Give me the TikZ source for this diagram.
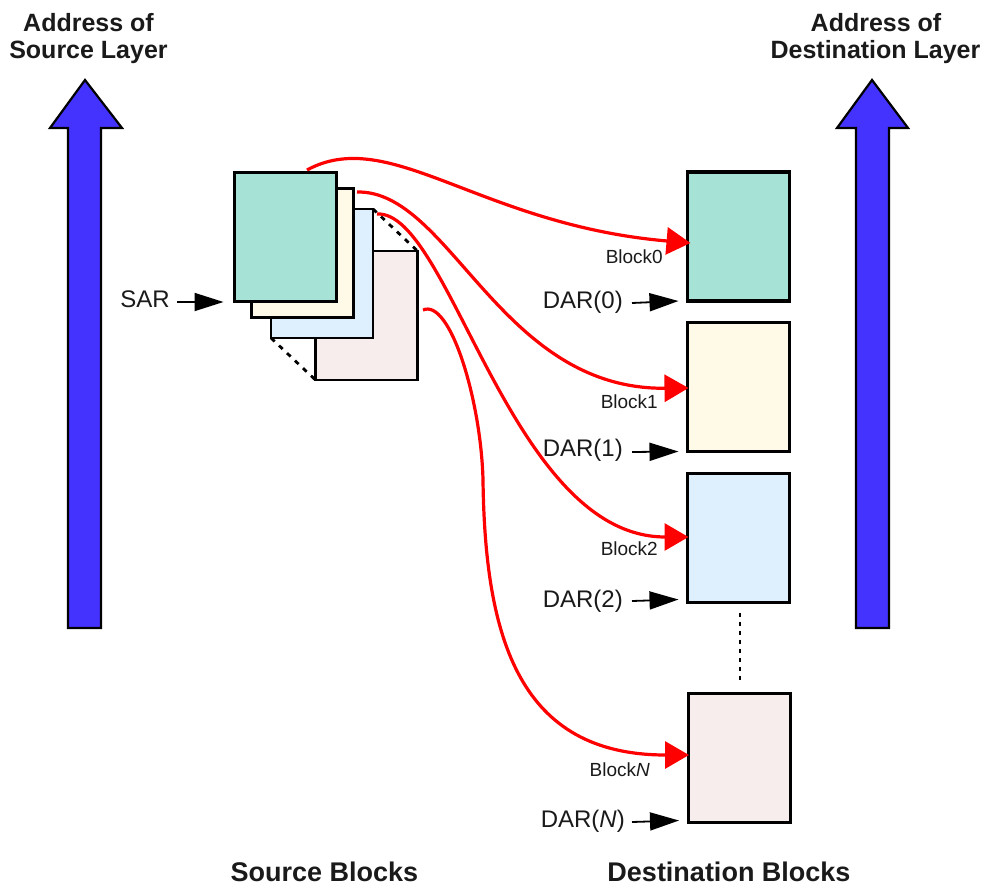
\documentclass[tikz,border=0pt]{standalone}
\usepackage{fontspec}
\setmainfont{Liberation Sans}
\usetikzlibrary{arrows.meta,calc}
\definecolor{cteal}{RGB}{166,226,214}
\definecolor{ccream}{RGB}{255,250,232}
\definecolor{cblue}{RGB}{222,240,254}
\definecolor{cpink}{RGB}{247,237,237}
\definecolor{cbig}{RGB}{68,51,255}
\definecolor{ctext}{RGB}{26,26,26}
\begin{document}
\begin{tikzpicture}[x=1pt,y=-1pt,
  ttl/.style={font=\bfseries\fontsize{25}{30}\selectfont, text=ctext, inner sep=0pt, anchor=base},
  btm/.style={font=\bfseries\fontsize{27}{32}\selectfont, text=ctext, inner sep=0pt, anchor=base},
  lbl/.style={font=\fontsize{24}{28}\selectfont, text=ctext, inner sep=0pt, anchor=base east},
  blbl/.style={font=\fontsize{19}{22}\selectfont, text=ctext, inner sep=0pt, anchor=base east},
  srcbox/.style={draw=black, line width=3.2pt, minimum width=102pt, minimum height=129pt, inner sep=0pt, outer sep=0pt},
  dstbox/.style={draw=black, line width=3pt, minimum width=102pt, minimum height=129pt, inner sep=0pt, outer sep=0pt},
  bigarrow/.style={draw=black, line width=2.2pt, fill=cbig, line join=miter},
  redarr/.style={draw=red, line width=3.2pt, -{Triangle[length=24pt,width=27pt]}},
  blkarr/.style={draw=black, line width=1.8pt, -{Triangle[length=29pt,width=18pt]}},
  morelines/.style={draw=black, line width=2.8pt, dash pattern=on 5pt off 6pt}
]
\useasboundingbox (0,0) rectangle (987,888);

% big blue arrows
\path[bigarrow] (68,628) -- (68,128) -- (50,128) -- (85,80) -- (122,128) -- (101,128) -- (101,628) -- cycle;
\path[bigarrow] (856,628) -- (856,128) -- (837,128) -- (872,80) -- (908,128) -- (889,128) -- (889,628) -- cycle;

% titles
\node[ttl] (t1) at (88.5,31.5) {Address of};
\node[ttl] (t2) at (88.5,58.5) {Source Layer};
\node[ttl] (t3) at (876,31.5) {Address of};
\node[ttl] (t4) at (875.5,58.5) {Destination Layer};
\node[btm] (b1) at (324.5,881) {Source Blocks};
\node[btm] (b2) at (729,881) {Destination Blocks};

% source blocks (back to front)
\node[srcbox, fill=cpink, line width=2.8pt] (sD) at (366.5,315.5) {};
\node[srcbox, fill=cblue, line width=2.8pt] (sC) at (322,273.5) {};
\node[srcbox, fill=ccream] (sB) at (302.5,253) {};
\node[srcbox, fill=cteal, line width=3.6pt] (sA) at (285.5,237) {};
\draw[morelines] (sC.north east) -- (sD.north east);
\draw[morelines] (sC.south west) -- (sD.south west);

% destination blocks
\node[dstbox, fill=cteal, line width=3.5pt] (d0) at (738.5,236.5) {};
\node[dstbox, fill=ccream] (d1) at (738.5,387) {};
\node[dstbox, fill=cblue] (d2) at (738.5,538) {};
\node[dstbox, fill=cpink] (dN) at (739,758) {};
\draw[line width=2.8pt, dash pattern=on 4pt off 5pt] ($(d2.south)+(1.5,10)$) -- ($(dN.north)+(1,-10)$);

% SAR
\node[lbl] (sar) at (170,307) {SAR};
\draw[blkarr] ($(sar.base east)+(7,-5)$) -- ($(sA.west)+(-11,65)$);

% DAR labels and arrows
\node[lbl] (dar0) at (623,308) {DAR(0)};
\node[lbl] (dar1) at (623,456) {DAR(1)};
\node[lbl] (dar2) at (623,607) {DAR(2)};
\node[lbl] (darN) at (625,827) {DAR(\textit{N})};
\draw[blkarr] ($(dar0.base east)+(9,-5)$) -- ($(d0.south west)+(-9,0)$);
\draw[blkarr] ($(dar1.base east)+(9,-4)$) -- ($(d1.south west)+(-9,0)$);
\draw[blkarr] ($(dar2.base east)+(9,-6)$) -- ($(d2.south west)+(-9,-3)$);
\draw[blkarr] ($(darN.base east)+(7,-5)$) -- ($(dN.south west)+(-9,-2)$);

% block labels
\node[blbl] (bl0) at (663,263) {Block0};
\node[blbl] (bl1) at (658,408) {Block1};
\node[blbl] (bl2) at (658,555) {Block2};
\node[blbl] (blN) at (650,776) {Block\textit{N}};

% red connectors
\coordinate (s0) at (307,170);
\coordinate (s1) at (357,192);
\coordinate (s2) at (377,214);
\coordinate (s3) at (423,310);
\coordinate (m3) at (483,480);
\draw[redarr] (s0) .. controls (390,125) and (480,225) .. ($(d0.west)+(3,6.5)$);
\draw[redarr] (s1) .. controls (450,190) and (500,390) .. ($(d1.west)+(1,1)$);
\draw[redarr] (s2) .. controls (450,210) and (510,537) .. ($(d2.west)+(1,-1)$);
\draw[redarr] (s3) .. controls (450,298) and (481,400) .. (m3)
   .. controls (485,640) and (520,755) .. ($(dN.west)+(1,-3)$);
\end{tikzpicture}
\end{document}
